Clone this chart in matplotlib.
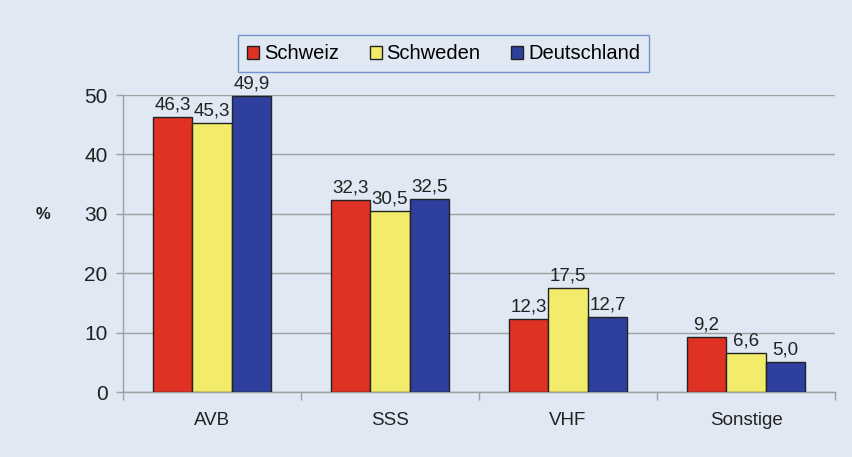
import matplotlib.pyplot as plt
import numpy as np

plt.rcParams['font.family'] = ['Liberation Sans', 'DejaVu Sans']

categories = ['AVB', 'SSS', 'VHF', 'Sonstige']
series = ['Schweiz', 'Schweden', 'Deutschland']
schweiz = [46.3, 32.3, 12.3, 9.2]
schweden = [45.3, 30.5, 17.5, 6.6]
deutschland = [49.9, 32.5, 12.7, 5.0]
colors = ['#e03224', '#f2ec6a', '#2e3f9e']

bg = '#dfe8f3'
fig = plt.figure(figsize=(8.53, 4.57), dpi=100, facecolor=bg)
ax = fig.add_axes([0.144, 0.142, 0.835, 0.650], facecolor=bg)

x = np.arange(len(categories))
w = 0.222
for i, (vals, name) in enumerate(zip([schweiz, schweden, deutschland], series)):
    pos = x + (i - 1) * w
    ax.bar(pos, vals, w, color=colors[i], edgecolor='#222222', linewidth=1, label=name, zorder=3)
    for p, v in zip(pos, vals):
        ax.text(p, v + 0.6, f'{v:.1f}'.replace('.', ','), ha='center', va='bottom', fontsize=13.5, color='#222222', zorder=4)

ax.set_xlim(-0.5, len(categories) - 0.5)
ax.set_ylim(0, 50)
ax.set_yticks(range(0, 51, 10))
ax.set_yticklabels([str(t) for t in range(0, 51, 10)], fontsize=15, color='#222222')
ax.yaxis.grid(True, color='#a0a0a0', linewidth=1, zorder=0)

ax.set_xticks(np.arange(-0.5, len(categories), 1.0))
ax.set_xticklabels([])
ax.set_xticks(x, minor=True)
ax.set_xticklabels(categories, minor=True, fontsize=13.5, color='#222222')
ax.tick_params(axis='x', which='major', length=6, color='#a0a0a0', width=1)
ax.tick_params(axis='x', which='minor', length=0, pad=14)
ax.tick_params(axis='y', length=5, color='#a0a0a0', width=1, pad=6)

for s in ['top', 'right']:
    ax.spines[s].set_visible(False)
for s in ['left', 'bottom']:
    ax.spines[s].set_color('#a0a0a0')
    ax.spines[s].set_linewidth(1)

fig.text(0.05, 0.53, '%', fontsize=12, fontweight='bold', color='#222222', ha='center', va='center')

leg = fig.legend(loc='center', bbox_to_anchor=(0.52, 0.882), ncol=3, fontsize=14.5,
                 frameon=True, fancybox=False, handlelength=0.6, handleheight=0.6,
                 handletextpad=0.25, columnspacing=1.5, borderpad=0.45, borderaxespad=0)
leg.get_frame().set_edgecolor('#5b7fc4')
leg.get_frame().set_facecolor(bg)
leg.get_frame().set_linewidth(1)

fig.savefig('out.png', dpi=100, facecolor=bg)
